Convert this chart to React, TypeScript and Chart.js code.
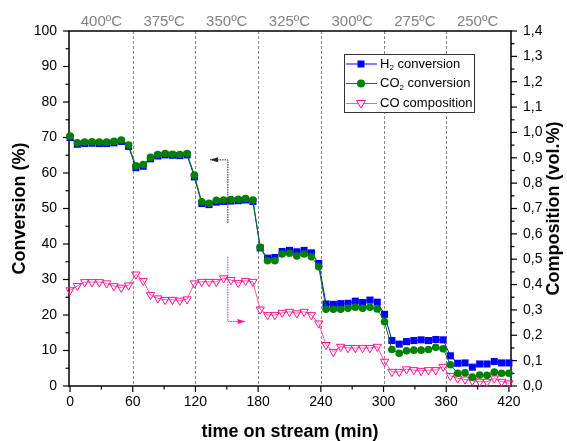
import React, { useEffect, useRef } from 'react';
import { Chart, registerables } from 'chart.js';

Chart.register(...registerables);

const FONT = '"Liberation Sans", Arial, Helvetica, sans-serif';

// time on stream (min)
const times = [
  0, 7, 14, 21, 28, 35, 42, 49, 56,
  63, 70, 77, 84, 91, 98, 105, 112,
  119,
  126, 133, 140, 147, 154, 161, 168, 175,
  182,
  189, 196, 203, 210, 217, 224, 231,
  238,
  245, 252, 259, 266, 273, 280, 287, 294,
  301,
  308, 315, 322, 329, 336, 343, 350, 357,
  364,
  371, 378, 385, 392, 399, 406, 413, 420,
];

// H2 conversion (%)
const h2Conversion = [
  70.0, 68.1, 68.3, 68.4, 68.3, 68.3, 68.5, 68.9, 67.5,
  61.5, 61.9, 64.0, 64.8, 65.1, 65.0, 64.9, 65.1,
  58.9,
  51.4, 51.1, 51.8, 52.0, 52.1, 52.2, 52.4, 52.0,
  38.9,
  36.0, 36.2, 37.9, 38.2, 37.8, 38.2, 37.5,
  34.5,
  23.1, 23.0, 23.2, 23.3, 23.9, 23.5, 24.2, 23.6,
  20.2,
  12.8, 11.8, 12.5, 12.8, 13.0, 12.8, 13.1, 13.0,
  8.5,
  6.4, 6.5, 5.3, 6.2, 6.2, 6.9, 6.5, 6.5,
];

// CO2 conversion (%)
const co2Conversion = [
  70.4, 68.5, 68.7, 68.8, 68.7, 68.7, 68.9, 69.3, 67.9,
  62.0, 62.4, 64.4, 65.2, 65.5, 65.3, 65.2, 65.5,
  59.4,
  51.9, 51.5, 52.3, 52.4, 52.5, 52.6, 52.8, 52.4,
  39.1,
  35.3, 35.3, 37.2, 37.4, 36.6, 37.2, 36.4,
  33.6,
  21.6, 21.6, 21.6, 21.9, 22.2, 21.9, 22.2, 21.7,
  18.1,
  10.3, 9.2, 9.9, 10.1, 10.1, 10.3, 10.9, 10.5,
  6.0,
  3.6, 3.7, 2.5, 3.1, 3.0, 3.9, 3.6, 3.6,
];

// CO composition (vol.%)
const coComposition = [
  0.378, 0.395, 0.41, 0.41, 0.41, 0.405, 0.394, 0.388, 0.397,
  0.44, 0.415, 0.359, 0.346, 0.34, 0.34, 0.337, 0.342,
  0.405,
  0.411, 0.411, 0.411, 0.425, 0.418, 0.407, 0.415, 0.411,
  0.302,
  0.28, 0.28, 0.289, 0.293, 0.287, 0.293, 0.28,
  0.247,
  0.162, 0.135, 0.155, 0.15, 0.15, 0.15, 0.15, 0.155,
  0.096,
  0.056, 0.056, 0.066, 0.063, 0.06, 0.063, 0.063, 0.076,
  0.04,
  0.03, 0.026, 0.021, 0.017, 0.017, 0.03, 0.017, 0.011,
];

const temperatureLabels = ['400ºC', '375ºC', '350ºC', '325ºC', '300ºC', '275ºC', '250ºC'];
const temperatureCenters = [30, 90, 150, 210, 270, 330, 390];
const separators = [60, 120, 180, 240, 300, 360];

const xTicks = [0, 60, 120, 180, 240, 300, 360, 420];
const leftTicks = [0, 10, 20, 30, 40, 50, 60, 70, 80, 90, 100];
const rightTicks = [0, 0.1, 0.2, 0.3, 0.4, 0.5, 0.6, 0.7, 0.8, 0.9, 1.0, 1.1, 1.2, 1.3, 1.4];

// guide arrows (data coordinates)
const blackArrow = { x: 151, yFrom: 45.9, yTo: 63.7, xTip: 134 };
const pinkArrow = { x: 151, yFrom: 0.51, yTo: 0.254, xTip: 168 };

const BLUE = '#0000ff';
const GREEN = '#008000';
const PINK_LINE = '#ff5aac';
const PINK_MARK = '#ff1493';

function mids(arr: number[]) {
  const out: number[] = [];
  for (let i = 0; i < arr.length - 1; i++) out.push((arr[i] + arr[i + 1]) / 2);
  return out;
}

function drawSubText(ctx: CanvasRenderingContext2D, x: number, y: number, main: string, sub: string, rest: string, size: number) {
  ctx.font = `${size}px ${FONT}`;
  ctx.textBaseline = 'middle';
  ctx.textAlign = 'left';
  ctx.fillText(main, x, y);
  let cx = x + ctx.measureText(main).width;
  if (sub) {
    ctx.font = `${Math.round(size * 0.65)}px ${FONT}`;
    ctx.fillText(sub, cx, y + 4);
    cx += ctx.measureText(sub).width;
    ctx.font = `${size}px ${FONT}`;
  }
  ctx.fillText(rest, cx, y);
}

const overlay = {
  id: 'overlay',
  beforeDatasetsDraw(chart: any) {
    const { ctx, chartArea: a, scales } = chart;
    const x = scales.x, y = scales.y, y2 = scales.y2;
    ctx.save();
    // dashed separators
    ctx.strokeStyle = '#8a8a8a';
    ctx.lineWidth = 1;
    ctx.setLineDash([3, 2]);
    for (const v of separators) {
      const px = Math.round(x.getPixelForValue(v)) + 0.5;
      ctx.beginPath();
      ctx.moveTo(px, a.top);
      ctx.lineTo(px, a.bottom);
      ctx.stroke();
    }
    ctx.setLineDash([]);
    // frame
    ctx.strokeStyle = '#000';
    ctx.lineWidth = 1.5;
    ctx.strokeRect(a.left, a.top, a.right - a.left, a.bottom - a.top);
    // ticks
    ctx.lineWidth = 1.2;
    const tick = (x1: number, y1: number, x2: number, y2p: number) => {
      ctx.beginPath();
      ctx.moveTo(x1, y1);
      ctx.lineTo(x2, y2p);
      ctx.stroke();
    };
    for (const v of xTicks) { const p = x.getPixelForValue(v); tick(p, a.bottom, p, a.bottom + 6); }
    for (const v of mids(xTicks)) { const p = x.getPixelForValue(v); tick(p, a.bottom, p, a.bottom + 3.5); }
    for (const v of leftTicks) { const p = y.getPixelForValue(v); tick(a.left, p, a.left - 6, p); }
    for (const v of mids(leftTicks)) { const p = y.getPixelForValue(v); tick(a.left, p, a.left - 3.5, p); }
    for (const v of rightTicks) { const p = y2.getPixelForValue(v); tick(a.right, p, a.right + 6, p); }
    for (const v of mids(rightTicks)) { const p = y2.getPixelForValue(v); tick(a.right, p, a.right + 3.5, p); }
    ctx.restore();
  },
  afterDatasetsDraw(chart: any) {
    const { ctx, chartArea: a, scales } = chart;
    const x = scales.x, y = scales.y, y2 = scales.y2;
    ctx.save();

    // temperature labels
    ctx.fillStyle = '#808080';
    ctx.font = `15px ${FONT}`;
    ctx.textAlign = 'center';
    ctx.textBaseline = 'middle';
    temperatureLabels.forEach((t, i) => {
      ctx.fillText(t, x.getPixelForValue(temperatureCenters[i]), 22);
    });

    // arrows
    const arrow = (color: string, ax: number, ayFrom: number, ayTo: number, tipX: number) => {
      ctx.strokeStyle = color;
      ctx.fillStyle = color;
      ctx.lineWidth = 1;
      ctx.setLineDash([1.5, 1]);
      ctx.beginPath();
      ctx.moveTo(ax, ayFrom);
      ctx.lineTo(ax, ayTo);
      ctx.lineTo(tipX, ayTo);
      ctx.stroke();
      ctx.setLineDash([]);
      const dir = tipX < ax ? -1 : 1;
      ctx.beginPath();
      ctx.moveTo(tipX, ayTo);
      ctx.lineTo(tipX - dir * 8, ayTo - 2.5);
      ctx.lineTo(tipX - dir * 8, ayTo + 2.5);
      ctx.closePath();
      ctx.fill();
    };
    arrow('#222', x.getPixelForValue(blackArrow.x), y.getPixelForValue(blackArrow.yFrom), y.getPixelForValue(blackArrow.yTo), x.getPixelForValue(blackArrow.xTip));
    arrow(PINK_MARK, x.getPixelForValue(pinkArrow.x), y2.getPixelForValue(pinkArrow.yFrom), y2.getPixelForValue(pinkArrow.yTo), x.getPixelForValue(pinkArrow.xTip));

    // legend
    const lx = 344, ly = 54, lw = 130, lh = 58;
    ctx.fillStyle = '#fff';
    ctx.fillRect(lx, ly, lw, lh);
    ctx.strokeStyle = '#333';
    ctx.lineWidth = 1;
    ctx.strokeRect(lx + 0.5, ly + 0.5, lw, lh);
    const rows = [
      { y: 64, color: BLUE, main: 'H', sub: '2', rest: ' conversion', marker: 'rect' },
      { y: 83.5, color: GREEN, main: 'CO', sub: '2', rest: ' conversion', marker: 'circle' },
      { y: 103.5, color: PINK_LINE, main: 'CO composition', sub: '', rest: '', marker: 'tri' },
    ];
    for (const r of rows) {
      ctx.strokeStyle = r.color;
      ctx.lineWidth = 1;
      ctx.beginPath();
      ctx.moveTo(346, r.y);
      ctx.lineTo(377, r.y);
      ctx.stroke();
      const mx = 361;
      if (r.marker === 'rect') {
        ctx.fillStyle = BLUE;
        ctx.fillRect(mx - 3.5, r.y - 3.5, 7, 7);
      } else if (r.marker === 'circle') {
        ctx.fillStyle = GREEN;
        ctx.beginPath();
        ctx.arc(mx, r.y, 4, 0, Math.PI * 2);
        ctx.fill();
      } else {
        ctx.fillStyle = '#fff';
        ctx.strokeStyle = PINK_MARK;
        ctx.beginPath();
        ctx.moveTo(mx - 4.5, r.y - 3);
        ctx.lineTo(mx + 4.5, r.y - 3);
        ctx.lineTo(mx, r.y + 4.5);
        ctx.closePath();
        ctx.fill();
        ctx.stroke();
      }
      ctx.fillStyle = '#000';
      drawSubText(ctx, 380, r.y, r.main, r.sub, r.rest, 13);
    }

    // axis titles
    ctx.fillStyle = '#000';
    ctx.font = `bold 18px ${FONT}`;
    ctx.textAlign = 'center';
    ctx.textBaseline = 'alphabetic';
    ctx.fillText('time on stream (min)', (a.left + a.right) / 2, 437);
    const cy = (a.top + a.bottom) / 2;
    ctx.save();
    ctx.translate(25, cy);
    ctx.rotate(-Math.PI / 2);
    ctx.fillText('Conversion (%)', 0, 0);
    ctx.restore();
    ctx.save();
    ctx.translate(559, cy);
    ctx.rotate(-Math.PI / 2);
    ctx.fillText('Composition (vol.%)', 0, 0);
    ctx.restore();

    ctx.restore();
  },
};

export default function App() {
  const ref = useRef<HTMLCanvasElement | null>(null);
  useEffect(() => {
    if (!ref.current) return;
    const tickFont = { family: FONT, size: 14 };
    const chart = new Chart(ref.current, {
      type: 'line',
      data: {
        datasets: [
          {
            label: 'H2 conversion',
            data: times.map((t, i) => ({ x: t, y: h2Conversion[i] })),
            borderColor: BLUE,
            backgroundColor: BLUE,
            pointBackgroundColor: BLUE,
            pointBorderColor: BLUE,
            pointStyle: 'rect',
            pointRadius: 5,
            pointBorderWidth: 0,
            borderWidth: 1,
            yAxisID: 'y',
            order: 1,
            clip: false,
          } as any,
          {
            label: 'CO2 conversion',
            data: times.map((t, i) => ({ x: t, y: co2Conversion[i] })),
            borderColor: GREEN,
            backgroundColor: GREEN,
            pointBackgroundColor: GREEN,
            pointBorderColor: GREEN,
            pointStyle: 'circle',
            pointRadius: 3.8,
            pointBorderWidth: 0,
            borderWidth: 1,
            yAxisID: 'y',
            order: 0,
            clip: false,
          } as any,
          {
            label: 'CO composition',
            data: times.map((t, i) => ({ x: t, y: coComposition[i] })),
            borderColor: PINK_LINE,
            backgroundColor: 'rgba(255,255,255,0)',
            pointBackgroundColor: 'rgba(255,255,255,0)',
            pointBorderColor: PINK_MARK,
            pointStyle: 'triangle',
            rotation: 180,
            pointRadius: 4.8,
            pointBorderWidth: 1,
            borderWidth: 1,
            yAxisID: 'y2',
            order: 2,
            clip: false,
          } as any,
        ],
      },
      options: {
        responsive: false,
        animation: false,
        events: [],
        layout: { padding: { top: 31, left: 0, right: 0, bottom: 0 } },
        plugins: { legend: { display: false }, tooltip: { enabled: false }, title: { display: false } },
        scales: {
          x: {
            type: 'linear',
            position: 'bottom',
            min: -1,
            max: 422,
            afterBuildTicks: (s: any) => { s.ticks = xTicks.map((v) => ({ value: v })); },
            afterFit: (s: any) => { s.height = 55; },
            ticks: { font: tickFont, color: '#000', padding: 8, maxRotation: 0, autoSkip: false, callback: (v: any) => String(v) },
            grid: { display: false, drawTicks: false },
            border: { display: false },
          },
          y: {
            type: 'linear',
            position: 'left',
            min: 0,
            max: 100,
            afterBuildTicks: (s: any) => { s.ticks = leftTicks.map((v) => ({ value: v })); },
            afterFit: (s: any) => { s.width = 69; },
            ticks: { font: tickFont, color: '#000', padding: 12, autoSkip: false, callback: (v: any) => String(v) },
            grid: { display: false, drawTicks: false },
            border: { display: false },
          },
          y2: {
            type: 'linear',
            position: 'right',
            min: 0,
            max: 1.4,
            afterBuildTicks: (s: any) => { s.ticks = rightTicks.map((v) => ({ value: v })); },
            afterFit: (s: any) => { s.width = 56; },
            ticks: { font: tickFont, color: '#000', padding: 12, autoSkip: false, callback: (v: any) => Number(v).toFixed(1).replace('.', ',') },
            grid: { display: false, drawTicks: false },
            border: { display: false },
          },
        },
      } as any,
      plugins: [overlay],
    });
    return () => chart.destroy();
  }, []);
  return (
    <div style={{ position: 'absolute', left: 0, top: 0, width: 567, height: 441, background: '#fff' }}>
      <canvas ref={ref} width={567} height={441} style={{ display: 'block' }} />
    </div>
  );
}
